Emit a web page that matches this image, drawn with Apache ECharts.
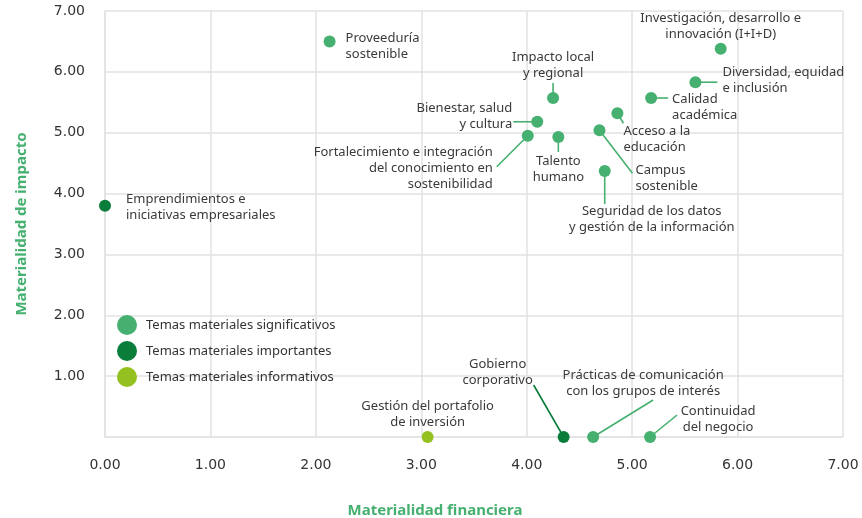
<!DOCTYPE html>
<html><head><meta charset="utf-8">
<script src="https://cdn.jsdelivr.net/npm/echarts@6/dist/echarts.min.js"></script>
<style>html,body{margin:0;padding:0;background:#fff}#c{width:862px;height:518px}</style>
</head><body><div id="c"></div>
<script>
// ---- data ----
const seriesNames = ['Temas materiales significativos', 'Temas materiales importantes', 'Temas materiales informativos'];
const sigTopics = ['Proveeduría\nsostenible', 'Investigación, desarrollo e\ninnovación (I+I+D)', 'Diversidad, equidad\ne inclusión', 'Calidad\nacadémica', 'Impacto local\ny regional', 'Acceso a la\neducación', 'Bienestar, salud\ny cultura', 'Fortalecimiento e integración\ndel conocimiento en\nsostenibilidad', 'Talento\nhumano', 'Campus\nsostenible', 'Seguridad de los datos\ny gestión de la información', 'Prácticas de comunicación\ncon los grupos de interés', 'Continuidad\ndel negocio'];
const sigFinancial = [2.13, 5.84, 5.60, 5.18, 4.25, 4.86, 4.10, 4.01, 4.30, 4.69, 4.74, 4.63, 5.17];
const sigImpact   = [6.50, 6.38, 5.83, 5.57, 5.57, 5.32, 5.18, 4.95, 4.93, 5.04, 4.37, 0.00, 0.00];
const impTopics = ['Emprendimientos e\niniciativas empresariales', 'Gobierno\ncorporativo'];
const impFinancial = [0.00, 4.35];
const impImpact = [3.80, 0.00];
const infTopics = ['Gestión del portafolio\nde inversión'];
const infFinancial = [3.06];
const infImpact = [0.00];
const tickValues = [0, 1, 2, 3, 4, 5, 6, 7];

// ---- styles / label placement (pixel offsets from the dot) ----
const colors = ['#45b06f', '#0b7d3b', '#94c11f'];
const labelPlace = {
  'Proveeduría\nsostenible': {dx: 16, dy: 5, align: 'left'},
  'Investigación, desarrollo e\ninnovación (I+I+D)': {dx: 0, dy: -22, align: 'center'},
  'Diversidad, equidad\ne inclusión': {dx: 27, dy: -2, align: 'left', line: [22, 0]},
  'Calidad\nacadémica': {dx: 21, dy: 9, align: 'left', line: [17, 0]},
  'Impacto local\ny regional': {dx: 0, dy: -33, align: 'center', line: [0, -15]},
  'Acceso a la\neducación': {dx: 6, dy: 26, align: 'left', line: [6, 10]},
  'Bienestar, salud\ny cultura': {dx: -25, dy: -5, align: 'right', line: [-24, 0]},
  'Fortalecimiento e integración\ndel conocimiento en\nsostenibilidad': {dx: -35, dy: 33, align: 'right', line: [-31, 31]},
  'Talento\nhumano': {dx: 0, dy: 32, align: 'center', line: [0, 15]},
  'Campus\nsostenible': {dx: 36, dy: 48, align: 'left', line: [33, 43]},
  'Seguridad de los datos\ny gestión de la información': {dx: 47, dy: 48, align: 'center', line: [0, 33]},
  'Prácticas de comunicación\ncon los grupos de interés': {dx: 50, dy: -54, align: 'center', line: [60, -37]},
  'Continuidad\ndel negocio': {dx: 68, dy: -18, align: 'center', line: [27, -22]},
  'Emprendimientos e\niniciativas empresariales': {dx: 21, dy: 2, align: 'left'},
  'Gobierno\ncorporativo': {dx: -66, dy: -65, align: 'center', line: [-30, -52]},
  'Gestión del portafolio\nde inversión': {dx: 0, dy: -23, align: 'center'}
};

const groups = [
  {names: sigTopics, xs: sigFinancial, ys: sigImpact},
  {names: impTopics, xs: impFinancial, ys: impImpact},
  {names: infTopics, xs: infFinancial, ys: infImpact}
];

const series = [];
groups.forEach((g, gi) => {
  const data = g.names.map((n, i) => ({name: n, value: [g.xs[i], g.ys[i]]}));
  // leader lines
  series.push({
    type: 'custom', name: 'lines' + gi, z: 1, silent: true, clip: false,
    data: data,
    renderItem: function (params, api) {
      const n = g.names[params.dataIndex];
      const pl = labelPlace[n];
      if (!pl || !pl.line) return {type: 'group', children: []};
      const p = api.coord([api.value(0), api.value(1)]);
      return {type: 'line', shape: {x1: p[0], y1: p[1], x2: p[0] + pl.line[0], y2: p[1] + pl.line[1]},
        style: {stroke: colors[gi], lineWidth: 1.6}};
    }
  });
  series.push({
    type: 'scatter', name: seriesNames[gi], z: 3, clip: false,
    symbolSize: 12,
    itemStyle: {color: colors[gi], opacity: 1},
    data: data,
    label: {show: true, formatter: p => p.name, fontFamily: 'Noto Sans', fontSize: 13, lineHeight: 16, color: '#3a3a3a', position: 'right'},
    labelLayout: function (params) {
      const n = g.names[params.dataIndex];
      const pl = labelPlace[n];
      const cx = params.rect.x + params.rect.width / 2;
      const cy = params.rect.y + params.rect.height / 2;
      return {x: cx + pl.dx, y: cy + pl.dy, align: pl.align, verticalAlign: 'middle'};
    }
  });
});

const gridColor = '#e2e2e2';
const chart = echarts.init(document.getElementById('c'), null, {renderer: 'canvas'});
chart.setOption({
  animation: false,
  backgroundColor: '#fff',
  grid: {left: 105, right: 19, top: 11, bottom: 81, containLabel: false, outerBoundsMode: 'none'},
  legend: {
    data: seriesNames, orient: 'vertical', left: 117, top: 315, padding: 0,
    icon: 'circle', itemWidth: 20, itemHeight: 20, itemGap: 6,
    textStyle: {fontFamily: 'Noto Sans', fontSize: 13, color: '#333', padding: [0, 0, 0, 4]},
    selectedMode: false
  },
  xAxis: {
    type: 'value', min: tickValues[0], max: tickValues[tickValues.length - 1], interval: 1,
    name: 'Materialidad financiera', nameLocation: 'middle', nameGap: 66,
    nameTextStyle: {fontFamily: 'Noto Sans', fontWeight: 'bold', fontSize: 15, color: '#45b06f', padding: [0, 78, 0, 0]},
    axisLine: {show: true, lineStyle: {color: gridColor, width: 1.5}},
    axisTick: {show: false},
    axisLabel: {formatter: v => v.toFixed(2), margin: 21, fontFamily: 'DejaVu Sans', fontSize: 14, color: '#333'},
    splitLine: {show: true, lineStyle: {color: gridColor, width: 1.5}}
  },
  yAxis: {
    type: 'value', min: tickValues[0], max: tickValues[tickValues.length - 1], interval: 1,
    name: 'Materialidad de impacto', nameLocation: 'middle', nameGap: 76, nameRotate: 90,
    nameTextStyle: {fontFamily: 'Noto Sans', fontWeight: 'bold', fontSize: 15, color: '#45b06f'},
    axisLine: {show: true, lineStyle: {color: gridColor, width: 1.5}},
    axisTick: {show: false},
    axisLabel: {formatter: v => v === 0 ? '' : v.toFixed(2), margin: 20, fontFamily: 'DejaVu Sans', fontSize: 14, color: '#333'},
    splitLine: {show: true, lineStyle: {color: gridColor, width: 1.5}}
  },
  series: series
});
</script></body></html>
